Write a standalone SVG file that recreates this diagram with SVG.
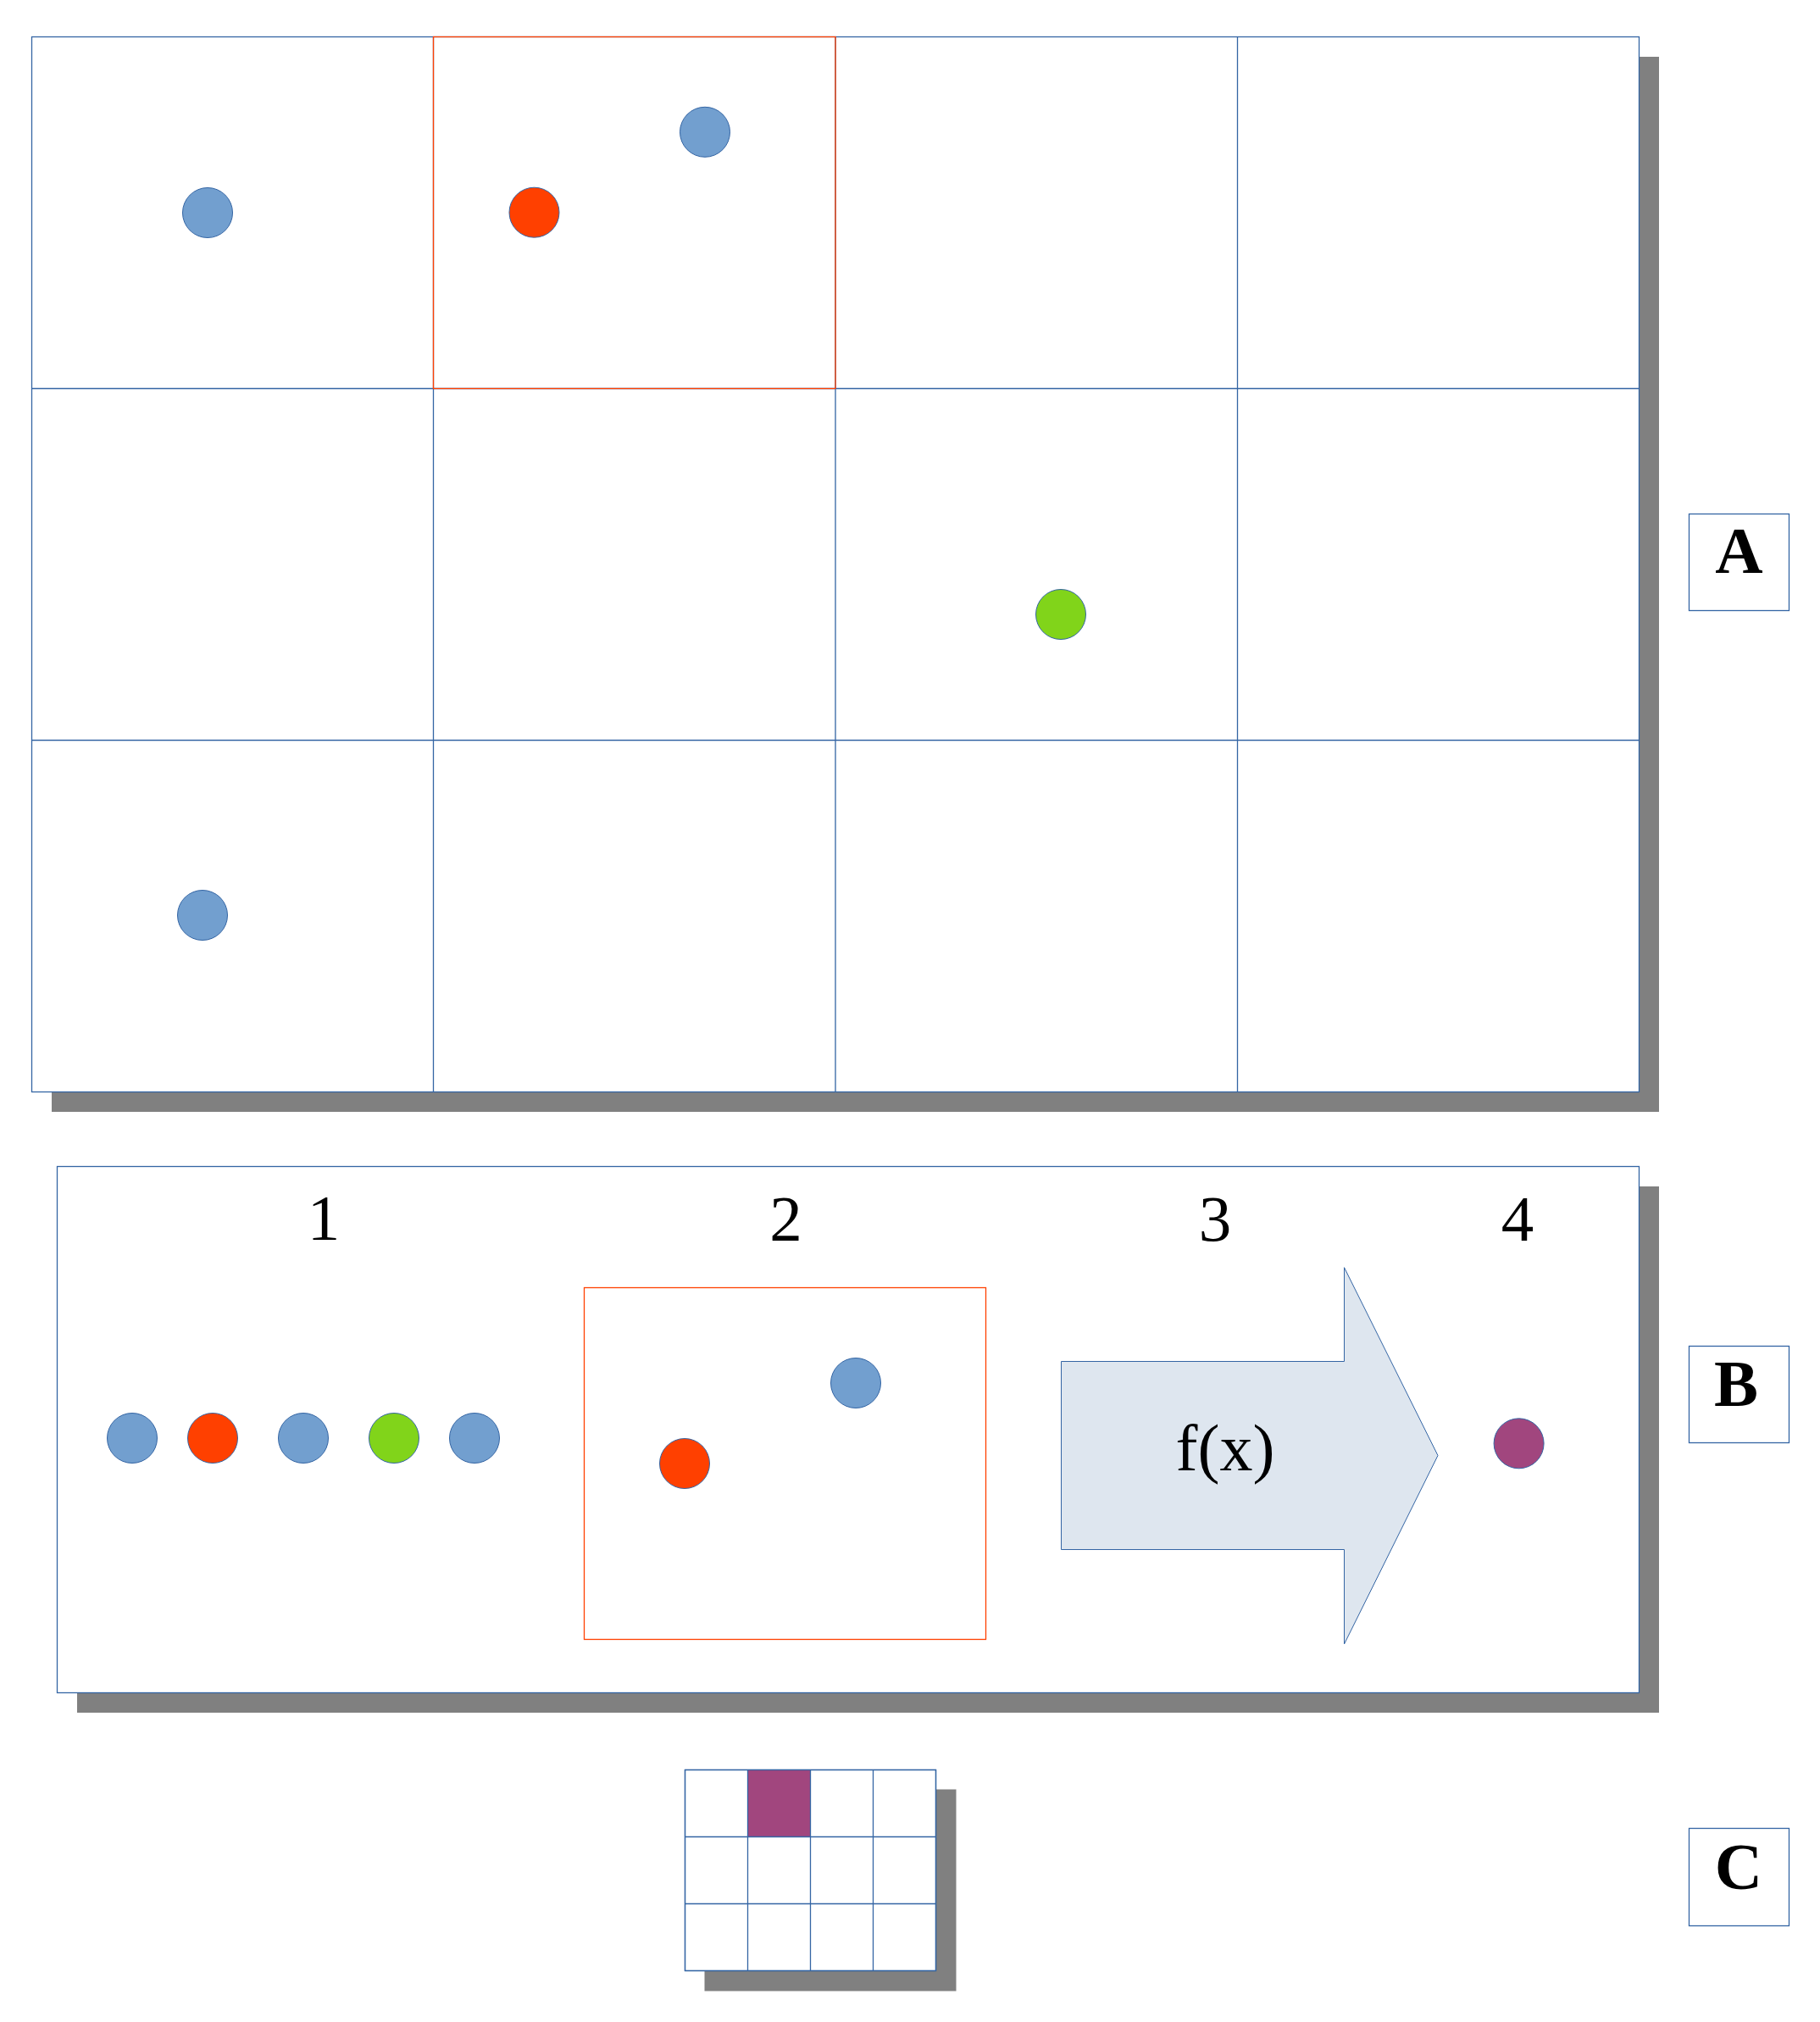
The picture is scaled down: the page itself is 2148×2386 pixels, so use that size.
<svg xmlns="http://www.w3.org/2000/svg" width="2148" height="2386" viewBox="0 0 2148 2386">
<style>
.shadow{fill:#808080;stroke:none}
.frame{fill:#ffffff;stroke:#3465a4;stroke-width:1.3}
.gl{stroke:#3465a4;stroke-width:1.3;fill:none}
.sel{fill:none;stroke:#ff4000;stroke-width:1.3}
.dot{stroke:#3465a4;stroke-width:1}
.blue{fill:#729fcf}
.red{fill:#ff4000}
.green{fill:#81d41a}
.purple{fill:#a1467e}
.num{font-family:"Liberation Serif","Times New Roman",serif;font-size:77px;fill:#000;text-anchor:middle}
.lbl{font-family:"Liberation Serif","Times New Roman",serif;font-size:78px;font-weight:bold;fill:#000;text-anchor:middle}
</style>
<rect width="2148" height="2386" fill="#ffffff"/>

<g id="gridA">
  <rect class="shadow" x="61" y="67" width="1897" height="1245"/>
  <rect class="frame" x="37.5" y="43.5" width="1897" height="1245"/>
  <path class="gl" d="M511.5 43.5V1288.5M986 43.5V1288.5M1460.5 43.5V1288.5M37.5 458.5H1934.5M37.5 873.5H1934.5"/>
  <rect class="sel" x="511.5" y="43.5" width="474.5" height="415"/>
  <circle class="dot blue" cx="245" cy="251" r="29.5"/>
  <circle class="dot red" cx="630.5" cy="250.7" r="29.5"/>
  <circle class="dot blue" cx="832" cy="155.8" r="29.5"/>
  <circle class="dot green" cx="1252" cy="725" r="29.5"/>
  <circle class="dot blue" cx="239" cy="1080" r="29.5"/>
</g>

<g id="labelA">
  <rect class="frame" x="1993.5" y="606.5" width="118" height="114"/>
  <text class="lbl" x="2052.5" y="676">A</text>
</g>

<g id="panelB">
  <rect class="shadow" x="91" y="1400" width="1867" height="621"/>
  <rect class="frame" x="67.5" y="1376.5" width="1867" height="621"/>
</g>

<g id="step1">
  <text class="num" x="382" y="1463">1</text>
  <circle class="dot blue" cx="156" cy="1697" r="29.5"/>
  <circle class="dot red" cx="251" cy="1697" r="29.5"/>
  <circle class="dot blue" cx="358" cy="1697" r="29.5"/>
  <circle class="dot green" cx="465" cy="1697" r="29.5"/>
  <circle class="dot blue" cx="560" cy="1697" r="29.5"/>
</g>

<g id="step2">
  <text class="num" x="927.5" y="1464">2</text>
  <rect class="sel" x="689.5" y="1519.5" width="474" height="415"/>
  <circle class="dot red" cx="808" cy="1727" r="29.5"/>
  <circle class="dot blue" cx="1010" cy="1632" r="29.5"/>
</g>

<g id="step3">
  <text class="num" x="1434" y="1464">3</text>
  <polygon points="1252.5,1606.5 1586.5,1606.5 1586.5,1495.7 1697,1717.5 1586.5,1940 1586.5,1828.5 1252.5,1828.5" fill="#dee6ef" stroke="#3465a4" stroke-width="1"/>
  <text class="num" x="1446" y="1735" style="font-size:78px">f(x)</text>
</g>

<g id="step4">
  <text class="num" x="1791" y="1464">4</text>
  <circle class="dot purple" cx="1792.6" cy="1703.3" r="29.5"/>
</g>

<g id="labelB">
  <rect class="frame" x="1993.5" y="1588.5" width="118" height="114"/>
  <text class="lbl" x="2049" y="1658.5">B</text>
</g>

<g id="gridC">
  <rect class="shadow" x="831.5" y="2111.5" width="297" height="238"/>
  <rect class="frame" x="808.5" y="2088.5" width="296" height="237"/>
  <rect class="purple" x="882.5" y="2088.5" width="74" height="79"/>
  <path class="gl" d="M882.5 2088.5V2325.5M956.5 2088.5V2325.5M1030.5 2088.5V2325.5M808.5 2167.5H1104.5M808.5 2246.5H1104.5"/>
  <rect class="gl" x="808.5" y="2088.5" width="296" height="237"/>
</g>

<g id="labelC">
  <rect class="frame" x="1993.5" y="2157.5" width="118" height="115"/>
  <text class="lbl" x="2052" y="2229">C</text>
</g>

<g id="connectors"/>
</svg>
